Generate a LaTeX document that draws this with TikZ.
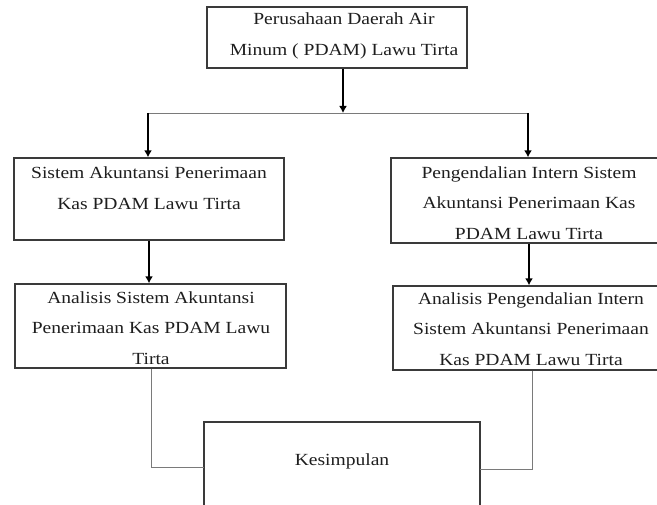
\documentclass[tikz,border=0pt]{standalone}
\usepackage{fontspec}
\setmainfont{Liberation Serif}[FakeStretch=1.15]
\usetikzlibrary{arrows.meta}
\definecolor{boxline}{HTML}{3A3A3A}
\definecolor{thinline}{HTML}{7A7A7A}
\definecolor{txtcol}{HTML}{1E1E1E}
\tikzset{
  boxnode/.style={draw=boxline, line width=1.3pt, rectangle, inner sep=0pt},
  txtnode/.style={inner sep=0pt, align=center, text=txtcol, font=\fontsize{17}{30.5}\selectfont},
  arrowline/.style={line width=1.5pt, draw=black, -{Latex[length=7pt,width=8pt]}},
  thinconn/.style={line width=0.9pt, draw=thinline},
  splitline/.style={line width=0.9pt, draw=thinline}
}
\begin{document}
\begin{tikzpicture}[x=1pt,y=-1pt]
\useasboundingbox (0,0) rectangle (657,505);
\clip (0,0) rectangle (657,505);
\fill[white] (0,0) rectangle (657,505);

% boxes
\node[boxnode, minimum width=260pt, minimum height=61pt] (top) at (337,37.5) {};
\node[boxnode, minimum width=270pt, minimum height=82pt] (b1) at (149,199) {};
\node[boxnode, minimum width=276pt, minimum height=85pt] (b2) at (529,200.5) {};
\node[boxnode, minimum width=271pt, minimum height=84pt] (b3) at (150.5,326) {};
\node[boxnode, minimum width=276pt, minimum height=84pt] (b4) at (531,328) {};
\node[boxnode, minimum width=276pt, minimum height=160pt] (kes) at (342,502) {};

% texts
\node[txtnode] (ttop) at (344,36) {Perusahaan Daerah Air\\Minum ( PDAM) Lawu Tirta};
\node[txtnode] (tb1) at (149,188) {Sistem Akuntansi Penerimaan\\Kas PDAM Lawu Tirta};
\node[txtnode] (tb2) at (529,203) {Pengendalian Intern Sistem\\Akuntansi Penerimaan Kas\\PDAM Lawu Tirta};
\node[txtnode] (tb3) at (151,328) {Analisis Sistem Akuntansi\\Penerimaan Kas PDAM Lawu\\Tirta};
\node[txtnode] (tb4) at (531,329) {Analisis Pengendalian Intern\\Sistem Akuntansi Penerimaan\\Kas PDAM Lawu Tirta};
\node[txtnode] (tkes) at (342,461) {Kesimpulan};

% connector coordinates
\coordinate (jC) at (343,113);
\coordinate (jL) at (148,113);
\coordinate (jR) at (528,113);
\coordinate (aL) at (149,0);
\coordinate (aR) at (529,0);
\coordinate (cL) at (151,0);
\coordinate (cR) at (532,0);
\coordinate (kL) at (204,467);
\coordinate (kR) at (480,469);

% connectors
\draw[arrowline] (top.south -| jC) -- (jC);
\draw[splitline] (jL) -- (jR);
\draw[arrowline] (jL) -- (b1.north -| jL);
\draw[arrowline] (jR) -- (b2.north -| jR);
\draw[arrowline] (b1.south -| aL) -- (b3.north -| aL);
\draw[arrowline] (b2.south -| aR) -- (b4.north -| aR);
\draw[thinconn] (b3.south -| cL) |- (kL);
\draw[thinconn] (b4.south -| cR) |- (kR);
\end{tikzpicture}
\end{document}
